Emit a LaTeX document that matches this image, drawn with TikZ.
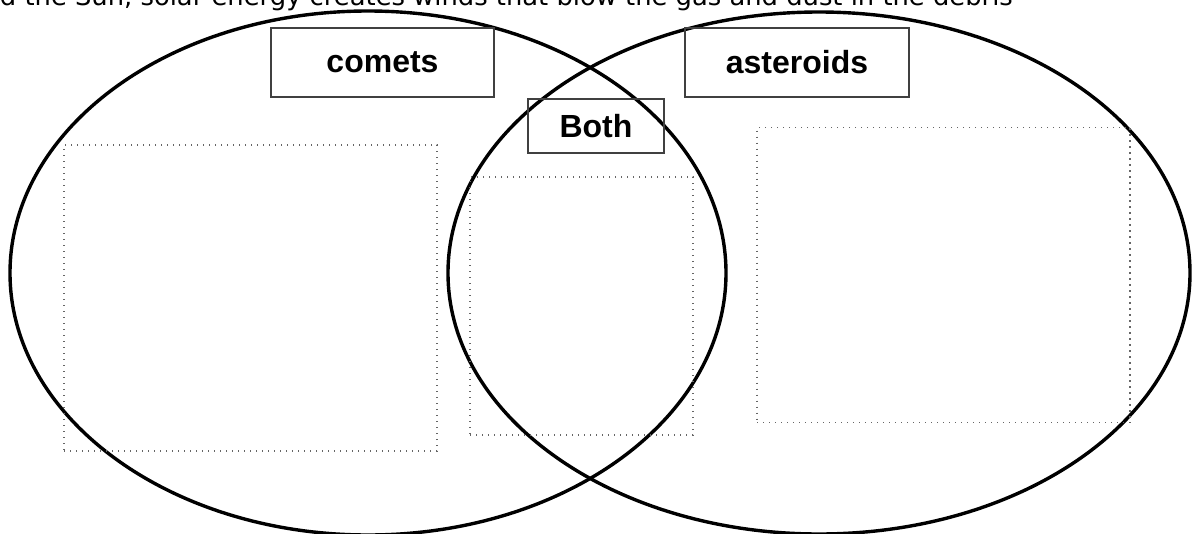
\documentclass[tikz,border=0pt]{standalone}
\usepackage{fontspec}
\setmainfont{Liberation Sans}
\newfontfamily\topfont{DejaVu Sans}
\tikzset{
  label box/.style={draw=black!75,line width=1.3pt,inner sep=0pt,font=\fontsize{32}{36}\selectfont\bfseries},
  answer box/.style={draw=black!60,line width=1.4pt,dash pattern=on 1.4pt off 4.6pt,inner sep=0pt},
  venn/.style={line width=3.4pt}
}
\begin{document}
\begin{tikzpicture}[x=1pt,y=-1pt]
\clip (0,0) rectangle (1201,533);
\useasboundingbox (0,0) rectangle (1201,533);
% clipped sentence at the top
\node[anchor=base east,inner sep=0pt,font=\topfont\fontsize{25.8}{30}\selectfont] (intro) at (1013,5) {and the Sun, solar energy creates winds that blow the gas and dust in the debris};
% the two sets
\draw[venn] (368,273) ellipse [x radius=358pt,y radius=262pt];
\draw[venn] (819,273) ellipse [x radius=371pt,y radius=261pt];
% titles
\node[label box,minimum width=223pt,minimum height=69pt] (comets) at (382.5,62.5) {comets};
\node[label box,minimum width=224pt,minimum height=69pt] (asteroids) at (797,62.5) {asteroids};
\node[label box,minimum width=136pt,minimum height=54pt] (both) at (596,126) {Both};
% places to write
\node[answer box,minimum width=373pt,minimum height=306pt] (cometsarea) at (250.5,298) {};
\node[answer box,minimum width=223pt,minimum height=258pt] (botharea) at (581.5,306) {};
\node[answer box,minimum width=373pt,minimum height=295pt] (asteroidsarea) at (943.5,275) {};
\end{tikzpicture}
\end{document}
